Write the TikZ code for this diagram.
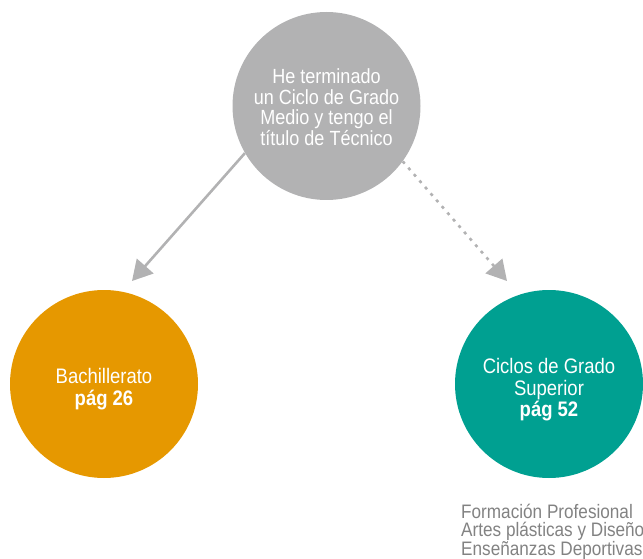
\documentclass[tikz,border=0pt]{standalone}
\usepackage{fontspec}
\setmainfont[FakeStretch=0.88]{Liberation Sans}
\usetikzlibrary{arrows.meta}
\definecolor{cgray}{RGB}{178,178,179}
\definecolor{corange}{RGB}{230,152,0}
\definecolor{cteal}{RGB}{0,160,145}
\definecolor{ctext}{RGB}{130,130,130}
\tikzset{
  bubble/.style={circle, minimum size=188pt, inner sep=0pt},
  btext/.style={text=white, align=center, inner sep=0pt, font=\fontsize{21}{21.5}\selectfont},
  link/.style={draw=cgray, line width=2.6pt, -{Triangle[length=20pt,width=22pt]}},
  dotlink/.style={link, dash pattern=on 3pt off 5.5pt}
}
\begin{document}
\begin{tikzpicture}[x=1pt,y=-1pt]
\useasboundingbox (0,0) rectangle (643,559);
\node[bubble, fill=cgray] (top) at (326.5,106) {};
\node[bubble, fill=corange] (bach) at (104,384) {};
\node[bubble, fill=cteal] (cgs) at (549,384) {};
\node[btext, font=\fontsize{20.5}{20.5}\selectfont] (toptxt) at (326.5,107) {He terminado\\un Ciclo de Grado\\Medio y tengo el\\título de Técnico};
\node[btext] (bachtxt) at (104,389) {Bachillerato\\\textbf{pág 26}};
\node[btext] (cgstxt) at (549,390) {Ciclos de Grado\\Superior\\\textbf{pág 52}};
\coordinate (t1) at (132,281);
\coordinate (t2) at (507,281);
\draw[link] (top.210.6) -- (t1);
\draw[dotlink] (top.-36.5) -- (t2);
\node[anchor=north west, inner sep=0pt, align=left, text=ctext, font=\fontsize{19.5}{18}\selectfont] (note) at (461,503.5) {Formación Profesional\\Artes plásticas y Diseño\\Enseñanzas Deportivas};
\end{tikzpicture}
\end{document}
